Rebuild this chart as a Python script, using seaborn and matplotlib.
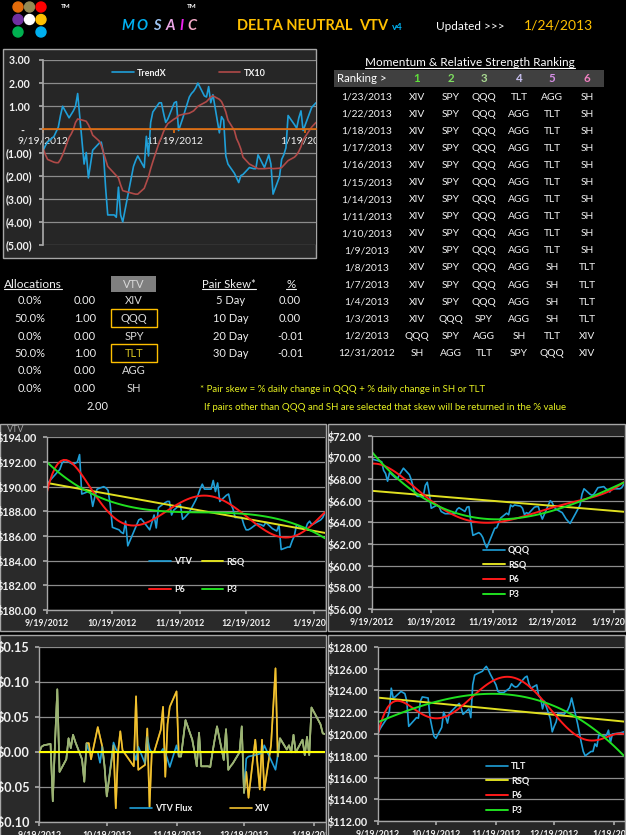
import numpy as np
import pandas as pd
import matplotlib
matplotlib.use("Agg")
import matplotlib.pyplot as plt
import seaborn as sns
from matplotlib.patches import Rectangle, Ellipse
from matplotlib.lines import Line2D
from matplotlib.transforms import Bbox, TransformedBbox

W, H = 626, 835

# trading days 9/19/2012 - 1/24/2013 (Sandy, Thanksgiving, Xmas, New Year, MLK closed)
holidays = ["2012-10-29", "2012-10-30", "2012-11-22", "2012-12-25", "2013-01-01", "2013-01-21"]
dates = pd.bdate_range("2012-09-19", "2013-01-24", freq="C", holidays=holidays)
days = np.asarray((dates - dates[0]).days)

tick_dates = ["2012-09-19", "2012-10-19", "2012-11-19", "2012-12-19", "2013-01-19"]
tick_labels = ["9/19/2012", "10/19/2012", "11/19/2012", "12/19/2012", "1/19/2013"]
tick_days = [(pd.Timestamp(d) - dates[0]).days for d in tick_dates]

trendx = [-0.9, -0.7, -0.55, -0.3, -0.1, 0.1, 0.6, 1.0,
          0.5, 0.65, 0.8, 1.0, 1.55, -1.5, -1.0, -2.1, -1.5, -0.9, -0.6, -0.55, -1.0, -2.5, -3.7,
          -3.7, -3.8, -2.5, -3.7, -4.0, -1.6,
          -1.35, -1.15, -1.65, -0.3, -1.15, 0.3, 0.75, 1.15, 1.15, 0.7, 0.3, 0.45, 1.15, 1.2, -0.05,
          0.5, 1.4, 1.55, 1.65, 1.8, 2.0,
          1.45, 1.4, 1.85, 1.15, 1.5, -0.15, 0.55, 0.4, -1.15, -1.5, -1.9, -2.1, -2.3, -2.0, -1.95,
          -1.65, -1.7, -1.7, -1.1, -1.65,
          -1.1, -1.5, -2.8, -2.05, -1.3, -1.1, -0.8, 0.6, 0.2, 0.05, 0.5, 0.8, -0.05, 0.95, 1.05, 1.15]
tx10 = [-0.85, -1.1, -1.3, -1.42, -1.44, -1.44, -1.3, -1.1,
        -0.35, -0.2, 0.0, 0.3, 0.45, 0.38, 0.35, 0.2, 0.0, -0.25, -0.5, -0.7, -1.0, -1.3, -1.6,
        -1.9, -2.0, -2.1, -2.4, -2.65, -2.78,
        -2.8, -2.8, -2.55, -2.3, -2.05, -1.7, -1.4, -0.55, -0.35, -0.1, 0.1, 0.25, 0.45, 0.5, 0.6,
        0.65, 0.7, 0.75, 0.8, 0.9, 1.0,
        1.15, 1.2, 1.3, 1.4, 1.45, 1.3, 1.2, 1.0, 0.75, 0.4, -0.05, -0.4, -0.6, -0.85, -1.2,
        -1.5, -1.6, -1.65, -1.7, -1.7,
        -1.68, -1.68, -1.7, -1.68, -1.65, -1.55, -1.45, -1.35, -1.2, -1.1, -0.95, -0.75, -0.45, 0.1, 0.2, 0.3]

vtv = [190.2, 190.4, 190.6, 191.2, 191.4, 191.9, 192.1, 192.1,
       191.8, 191.9, 192.0, 192.6, 189.4, 189.6, 189.5, 188.4, 189.2, 189.8, 190.0, 189.9, 189.7,
       188.5, 186.7, 186.5, 186.3, 186.2, 187.2, 185.2, 187.3,
       187.4, 187.2, 186.5, 187.1, 187.7, 186.65, 188.3, 188.7, 188.8, 188.8, 187.7, 188.1, 188.55,
       187.35, 187.5, 187.9, 188.9, 189.3, 189.8, 190.2, 189.8,
       189.8, 190.5, 189.6, 190.3, 188.8, 189.3, 189.4, 188.6, 188.2, 187.5, 187.5, 186.9, 186.5,
       186.5, 186.6, 187.0, 186.9, 186.8, 187.1, 186.6,
       186.4, 186.9, 184.9, 185.1, 185.1, 185.6, 186.0, 186.9, 186.6, 186.5, 187.0, 187.2, 186.9,
       187.3, 187.5, 187.9]
qqq = [69.9, 69.8, 69.75, 69.6, 68.8, 68.5, 67.8, 68.6,
       68.1, 68.05, 68.4, 68.7, 69.0, 68.4, 67.9, 67.2, 66.6, 66.4, 66.4, 67.4, 67.7, 66.7, 65.3,
       65.6, 65.45, 65.0, 64.9, 64.8, 64.8,
       65.2, 65.35, 65.0, 65.4, 65.45, 64.0, 62.8, 63.05, 62.9, 62.6, 62.05, 61.65, 63.0, 63.45,
       63.5, 64.4, 64.85, 64.7, 65.6, 65.45, 65.6,
       65.5, 65.3, 64.7, 64.9, 64.8, 65.4, 65.45, 65.45, 64.8, 64.3, 65.6, 66.0, 65.8, 65.4, 65.2,
       64.9, 64.3, 64.1, 63.9, 64.9,
       65.6, 66.6, 67.1, 66.6, 66.5, 66.6, 66.9, 67.2, 67.3, 67.1, 67.0, 66.8, 67.1, 67.1, 67.2, 67.5]
tlt = [120.05, 120.4, 120.7, 121.5, 122.05, 124.2, 123.3, 123.4,
       123.9, 123.8, 123.7, 123.0, 120.7, 121.3, 121.5, 121.45, 123.0, 123.4, 123.3, 121.5, 120.6,
       119.8, 119.6, 120.6, 122.0, 121.6, 121.0, 121.9, 122.8,
       122.4, 121.8, 122.3, 121.5, 124.5, 125.4, 125.5, 125.75, 126.0, 126.2, 125.9, 125.5, 124.5,
       123.9, 123.8, 123.8, 124.2, 124.6, 124.4, 124.3, 124.35,
       125.0, 125.2, 125.3, 124.6, 124.2, 124.5, 123.5, 123.3, 122.3, 123.0, 121.4, 120.2, 120.7,
       121.1, 121.9, 121.8, 122.2, 122.6, 123.3, 121.0,
       119.2, 118.4, 118.0, 118.4, 118.4, 119.1, 118.85, 119.9, 119.8, 119.9, 120.35, 119.2, 120.0,
       120.1, 120.15, 120.2]
xiv_flux = [0.0, 0.008, 0.01, 0.012, -0.07, 0.015, 0.09, -0.028,
            -0.01, 0.02, 0.006, 0.025, 0.015, -0.01, -0.042, 0.013, 0.013, -0.01, 0.036, 0.022,
            0.008, -0.02, -0.063, 0.01, -0.08, 0.0, 0.03, 0.003, -0.02,
            0.08, -0.025, -0.018, 0.034, -0.078, 0.0, 0.0, 0.032, 0.065, -0.035, 0.04, 0.065, 0.087,
            -0.006, -0.006, 0.046, 0.018, 0.0, -0.02, 0.028, -0.02,
            -0.02, -0.021, 0.0, 0.019, 0.037, -0.011, 0.033, -0.025, -0.02, -0.016, 0.0, 0.037,
            -0.058, -0.028, -0.065, 0.018, -0.053, 0.018, -0.054, 0.01,
            0.12, -0.006, 0.02, 0.004, 0.01, 0.0, 0.025, 0.0, 0.018, -0.004, 0.022, -0.004, 0.064,
            0.04, 0.027, 0.026]
vtv_flux = [0.0, 0.008, 0.01, 0.012, -0.07, 0.015, 0.09, -0.028,
            -0.01, 0.02, 0.006, 0.025, 0.015, -0.01, -0.042, 0.013, 0.002, 0.001, 0.0, -0.015,
            0.008, -0.02, -0.063, 0.014, 0.005, 0.0, 0.0, 0.0, 0.0,
            -0.011, 0.008, -0.016, 0.022, 0.005, 0.0, 0.0, 0.0, 0.005, 0.0, -0.01, -0.021, 0.01,
            -0.006, -0.006, 0.046, 0.018, 0.0, -0.02, 0.028, -0.02,
            -0.02, -0.021, 0.0, 0.019, 0.037, -0.011, 0.033, -0.025, -0.02, -0.016, 0.0, 0.037,
            -0.058, -0.009, -0.006, -0.004, -0.002, -0.002, 0.01, -0.011,
            -0.025, -0.004, 0.02, 0.004, 0.01, 0.0, 0.025, 0.0, 0.018, -0.004, 0.022, -0.004, 0.064,
            0.04, 0.027, 0.026]

rank_dates = ["1/23/2013", "1/22/2013", "1/18/2013", "1/17/2013", "1/16/2013", "1/15/2013",
              "1/14/2013", "1/11/2013", "1/10/2013", "1/9/2013", "1/8/2013", "1/7/2013",
              "1/4/2013", "1/3/2013", "1/2/2013", "12/31/2012"]
rank_rows = ([["XIV", "SPY", "QQQ", "TLT", "AGG", "SH"]]
             + [["XIV", "SPY", "QQQ", "AGG", "TLT", "SH"]] * 9
             + [["XIV", "SPY", "QQQ", "AGG", "SH", "TLT"]] * 3
             + [["XIV", "QQQ", "SPY", "AGG", "SH", "TLT"],
                ["QQQ", "SPY", "AGG", "SH", "TLT", "XIV"],
                ["SH", "AGG", "TLT", "SPY", "QQQ", "XIV"]])
rank_colors = ["#5fe03a", "#7fe060", "#a8d890", "#c8c0f0", "#d890e8", "#f080c0"]

alloc_tickers = ["XIV", "QQQ", "SPY", "TLT", "AGG", "SH"]
alloc_pct = ["0.0%", "50.0%", "0.0%", "50.0%", "0.0%", "0.0%"]
alloc_units = ["0.00", "1.00", "0.00", "1.00", "0.00", "0.00"]
alloc_total = "2.00"
skew_labels = ["5 Day", "10 Day", "20 Day", "30 Day"]
skew_vals = ["0.00", "0.00", "-0.01", "-0.01"]

CYAN = "#1f9fd8"
GOLD = "#f2c12e"

sns.set_theme(style="white")
plt.rcParams["font.family"] = ["Lato", "DejaVu Sans"]
plt.rcParams["axes.unicode_minus"] = False

fig = plt.figure(figsize=(W / 100, H / 100), dpi=100, facecolor="black")


def fx(x):
    return x / W


def fy(y):
    return 1 - y / H


def panel(x0, y0, x1, y1, face="#262626", edge="#a6a6a6"):
    fig.add_artist(Rectangle((fx(x0), fy(y1)), (x1 - x0) / W, (y1 - y0) / H,
                             transform=fig.transFigure, facecolor=face, edgecolor=edge,
                             lw=1, zorder=-5))


def add_ax(x0, y0, x1, y1):
    return fig.add_axes([fx(x0), fy(y1), (x1 - x0) / W, (y1 - y0) / H])


def txt(x, y, s, **kw):
    kw.setdefault("color", "#eeeeee")
    kw.setdefault("va", "center")
    return fig.text(fx(x), fy(y), s, **kw)


def clip_labels(ax, x0, y0, x1, y1):
    bb = TransformedBbox(Bbox([[fx(x0), fy(y1)], [fx(x1), fy(y0)]]), fig.transFigure)
    for lab in ax.get_xticklabels() + ax.get_yticklabels():
        lab.set_clip_box(bb)
        lab.set_clip_on(True)


def legend(ax, order, x, y, ncol=1, labelspacing=0.6, columnspacing=1.0):
    h, l = ax.get_legend_handles_labels()
    d = dict(zip(l, h))
    ax.legend([d[k] for k in order], order, loc="upper left",
              bbox_to_anchor=(fx(x), fy(y)), bbox_transform=fig.transFigure,
              frameon=False, ncol=ncol, handlelength=2.4, handletextpad=0.35,
              borderpad=0, borderaxespad=0, labelspacing=labelspacing,
              columnspacing=columnspacing, prop={"size": 6.5, "weight": "bold"},
              labelcolor="#f2f2f2")


def style_chart(ax, ylim, yticks, yfmt, ysize, xsize=6.3):
    ax.set_facecolor("black")
    ax.set_xlim(0, days[-1])
    ax.set_ylim(*ylim)
    ax.set_yticks(yticks)
    ax.set_yticklabels([yfmt(v) for v in yticks], fontweight="bold")
    ax.set_xticks(tick_days)
    ax.set_xticklabels(tick_labels, fontweight="bold")
    ax.grid(axis="y", color="#8c8c8c", lw=0.9)
    ax.grid(axis="x", visible=False)
    ax.set_axisbelow(True)
    for s in ["top", "right"]:
        ax.spines[s].set_visible(False)
    for s in ["left", "bottom"]:
        ax.spines[s].set_color("#a6a6a6")
        ax.spines[s].set_linewidth(1)
    ax.tick_params(axis="y", left=True, length=3, pad=4, colors="#a6a6a6",
                   labelcolor="#f2f2f2", labelsize=ysize)
    ax.tick_params(axis="x", bottom=True, length=3, pad=3, colors="#a6a6a6",
                   labelcolor="#f2f2f2", labelsize=xsize)
    ax.set_xlabel("")
    ax.set_ylabel("")


def dollar(v):
    return f"${v:,.2f}"


def trendlines(ax, y):
    sns.regplot(x=days, y=np.asarray(y), order=1, scatter=False, ci=None, color="#e0e020",
                label="RSQ", line_kws={"lw": 1.4}, ax=ax)
    sns.regplot(x=days, y=np.asarray(y), order=6, scatter=False, ci=None, color="#ff1a1a",
                label="P6", line_kws={"lw": 1.4}, ax=ax)
    sns.regplot(x=days, y=np.asarray(y), order=3, scatter=False, ci=None, color="#20e020",
                label="P3", line_kws={"lw": 1.4}, ax=ax)


# ---------------- header ----------------
dot_colors = [["#e46c0a", "#948a54", "#ff0000"],
              ["#7030a0", "#ffffff", "#ffc000"],
              ["#00b050", None, "#00b0f0"]]
for r, row in enumerate(dot_colors):
    for c, col in enumerate(row):
        if col is None:
            continue
        fig.add_artist(Ellipse((fx(18 + c * 11.5), fy(7 + r * 12.5)), 10 / W, 10 / H,
                               transform=fig.transFigure, color=col))
txt(66, 6, "TM", color="white", fontsize=4.5, fontweight="bold", ha="center")
txt(192, 6, "TM", color="white", fontsize=4.5, fontweight="bold", ha="center")
mosaic_colors = ["#00b0f0", "#00b0f0", "#9cc2f0", "#eaa6e6", "#ee22ee", "#f4aac8"]
for i, (ch, col) in enumerate(zip("MOSAIC", mosaic_colors)):
    txt([128, 142, 157, 170, 181, 192][i], 26, ch, color=col, fontsize=10.5,
        fontweight="bold", style="italic", ha="center")
txt(237, 26, "DELTA NEUTRAL", color="#ffc000", fontsize=10.5, fontweight="bold")
txt(359, 26, "VTV", color="#ffc000", fontsize=10.5, fontweight="bold")
txt(392, 27, "v4", color="#00b0f0", fontsize=7, fontweight="bold")
txt(436, 27, "Updated >>>", color="white", fontsize=8.5)
txt(524, 26, "1/24/2013", color="#ffc000", fontsize=10)

underlined = []

# ---------------- trend chart ----------------
panel(3, 49, 316, 258)
ax0 = add_ax(43.3, 60, 316, 245)
sns.lineplot(x=days, y=trendx, color=CYAN, lw=1.2, label="TrendX", ax=ax0)
sns.lineplot(x=days, y=tx10, color="#b04a48", lw=1.2, label="TX10", ax=ax0)
ax0.set_facecolor("#262626")
ax0.set_xlim(0, days[-1])
ax0.set_ylim(-5, 3)
ax0.set_yticks(range(-5, 4))
ax0.set_yticklabels(["(5.00)", "(4.00)", "(3.00)", "(2.00)", "(1.00)", "-   ",
                     "1.00 ", "2.00 ", "3.00 "], fontweight="bold")
ax0.set_xticks([tick_days[0], tick_days[2], tick_days[4]])
ax0.set_xticklabels([tick_labels[0], tick_labels[2], tick_labels[4]], fontweight="bold")
ax0.grid(axis="y", color="#8c8c8c", lw=0.9)
ax0.grid(axis="x", visible=False)
ax0.set_axisbelow(True)
for s in ["top", "right"]:
    ax0.spines[s].set_visible(False)
ax0.spines["left"].set_color("#a6a6a6")
ax0.spines["bottom"].set_position(("data", 0))
ax0.spines["bottom"].set_color("#e46c0a")
ax0.spines["bottom"].set_linewidth(1.2)
ax0.tick_params(axis="y", left=True, length=3, pad=5, colors="#a6a6a6",
                labelcolor="#f2f2f2", labelsize=7.6)
ax0.tick_params(axis="x", bottom=True, length=3, pad=2, colors="#e46c0a",
                labelcolor="#f2f2f2", labelsize=7.4)
ax0.set_xlabel("")
ax0.set_ylabel("")
legend(ax0, ["TrendX", "TX10"], 112, 68.5, ncol=2, columnspacing=5.8)
clip_labels(ax0, 0, 49, 316, 258)

# ---------------- ranking table ----------------
t = txt(470, 63, "Momentum & Relative Strength Ranking", color="white", fontsize=8.5, ha="center")
underlined.append(t)
fig.add_artist(Rectangle((fx(334), fy(87)), 270 / W, 17 / H, transform=fig.transFigure,
                         facecolor="#404040", edgecolor="none", zorder=-4))
col_x = [417, 451, 484, 519, 552, 587]
txt(337, 79, "Ranking >", color="white", fontsize=8.3)
for i, (cx, col) in enumerate(zip(col_x, rank_colors)):
    txt(cx, 79, str(i + 1), color=col, fontsize=8.3, fontweight="bold", ha="center")
for r, (d, row) in enumerate(zip(rank_dates, rank_rows)):
    y = 97 + r * 17.1
    txt(367, y, d, color="#f2f2f2", fontsize=7.4, ha="center")
    for cx, tk in zip(col_x, row):
        txt(cx, y, tk, color="#f2f2f2", fontsize=7.4, ha="center")

# ---------------- allocations ----------------
t = txt(4, 284, "Allocations", color="#f2f2f2", fontsize=8.6)
underlined.append(t)
fig.add_artist(Rectangle((fx(111), fy(292)), 45 / W, 16 / H, transform=fig.transFigure,
                         facecolor="#7f7f7f", edgecolor="none", zorder=-4))
txt(134, 284, "VTV", color="#d9d9d9", fontsize=8, ha="center")
alloc_y = [301, 318, 336, 353, 371, 388]
for y, p, u, tk in zip(alloc_y, alloc_pct, alloc_units, alloc_tickers):
    txt(30, y, p, fontsize=8, ha="center")
    txt(85, y, u, fontsize=8, ha="center")
    txt(134, y, tk, fontsize=8, ha="center",
        color="#d4c020" if tk == "TLT" else "#d9d9d9")
    if tk in ("QQQ", "TLT"):
        fig.add_artist(Rectangle((fx(110.5), fy(y + 9)), 46 / W, 18 / H,
                                 transform=fig.transFigure, facecolor="none",
                                 edgecolor="#ffc000", lw=1))
txt(98, 406, alloc_total, fontsize=8, ha="center")

t = txt(229, 284, "Pair Skew*", color="#f2f2f2", fontsize=8.2, ha="center")
underlined.append(t)
t = txt(291, 284, "%", color="#f2f2f2", fontsize=8.2, ha="center")
underlined.append(t)
for y, lab, v in zip(alloc_y, skew_labels, skew_vals):
    txt(231, y, lab, fontsize=8, ha="center")
    txt(290, y, v, fontsize=8, ha="center")
txt(200, 389, "* Pair skew = % daily change in QQQ + % daily change in SH or TLT",
    color="#e6f020", fontsize=6.9)
txt(204, 407, "If pairs other than QQQ and SH are selected that skew will be returned in the % value",
    color="#e6f020", fontsize=6.9)

# ---------------- VTV chart ----------------
panel(0, 424, 326, 631, face="#2a2a2a")
ax1 = add_ax(46.7, 437.3, 325, 610)
sns.lineplot(x=days, y=vtv, color=CYAN, lw=1.2, label="VTV", ax=ax1)
trendlines(ax1, vtv)
style_chart(ax1, (180, 194), list(range(180, 195, 2)), dollar, 7.8)
legend(ax1, ["VTV", "P6", "RSQ", "P3"], 149, 557, ncol=2, labelspacing=2.1, columnspacing=1.1)
txt(7, 430, "VTV", color="#a6a6a6", fontsize=6.5)
clip_labels(ax1, 0, 424, 326, 631)

# ---------------- QQQ chart ----------------
panel(328, 424, 625, 631)
ax2 = add_ax(371.7, 435.7, 623.7, 609)
sns.lineplot(x=days, y=qqq, color=CYAN, lw=1.2, label="QQQ", ax=ax2)
trendlines(ax2, qqq)
style_chart(ax2, (56, 72), list(range(56, 73, 2)), dollar, 7.8)
legend(ax2, ["QQQ", "RSQ", "P6", "P3"], 483, 546, labelspacing=0.62)
clip_labels(ax2, 328, 424, 625, 631)

# ---------------- flux chart ----------------
# XIV underneath, VTV Flux, then XIV translucent on top so shared segments blend
panel(0, 635, 326, 845, face="#2a2a2a")
ax3 = add_ax(39.3, 647.3, 325, 822.3)
sns.lineplot(x=days, y=xiv_flux, color=GOLD, lw=1.2, label="XIV", ax=ax3)
sns.lineplot(x=days, y=vtv_flux, color=CYAN, lw=1.2, label="VTV Flux", ax=ax3)
sns.lineplot(x=days, y=xiv_flux, color=GOLD, lw=1.2, alpha=0.6, label="_xiv_top", ax=ax3)
ax3.axhline(0, color="#ffff00", lw=1.5, zorder=5)
style_chart(ax3, (-0.10, 0.15), [-0.10, -0.05, 0.0, 0.05, 0.10, 0.15],
            lambda v: f"-${abs(v):.2f}" if v < -1e-9 else f"${abs(v):.2f}", 9.2)
legend(ax3, ["VTV Flux", "XIV"], 130, 804, ncol=2, columnspacing=4.2)
clip_labels(ax3, 0, 635, 326, 845)

# ---------------- TLT chart ----------------
panel(328, 635, 625, 845)
ax4 = add_ax(377.7, 646.7, 624, 821.3)
sns.lineplot(x=days, y=tlt, color=CYAN, lw=1.2, label="TLT", ax=ax4)
trendlines(ax4, tlt)
style_chart(ax4, (112, 128), list(range(112, 129, 2)), dollar, 7.8)
legend(ax4, ["TLT", "RSQ", "P6", "P3"], 486, 762, labelspacing=0.62)
clip_labels(ax4, 328, 635, 625, 845)

# underlines under the section headings
fig.canvas.draw()
renderer = fig.canvas.get_renderer()
inv = fig.transFigure.inverted()
for t in underlined:
    bb = t.get_window_extent(renderer)
    (x0, y0), (x1, _) = inv.transform([[bb.x0, bb.y0], [bb.x1, bb.y1]])
    fig.add_artist(Line2D([x0, x1], [y0 + 1 / H] * 2, transform=fig.transFigure,
                          color=t.get_color(), lw=0.8))

fig.savefig("out.png", dpi=100, facecolor="black")
